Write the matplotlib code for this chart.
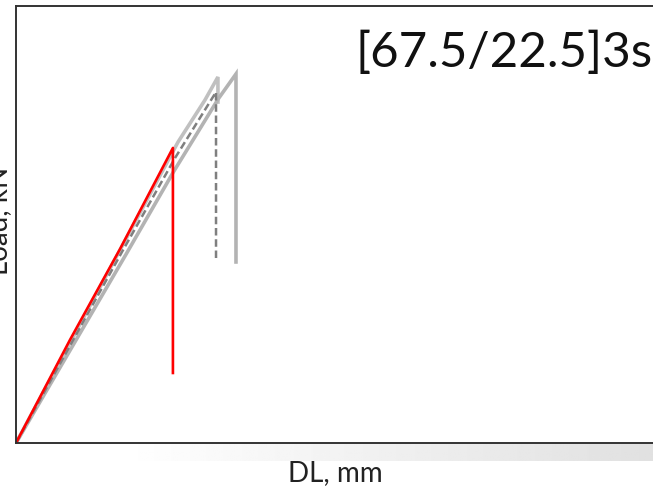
import numpy as np
import matplotlib as mpl
mpl.use('agg')
import matplotlib.pyplot as plt

# load-displacement curves (DL in mm, load in kN)
red_dl = [0.0, 0.254, 0.490, 0.739, 0.739]
red_load = [0.0, 10.61, 19.98, 30.38, 7.21]

upper_dl = [0.0, 0.490, 0.763, 0.890, 0.951, 0.951]
upper_load = [0.0, 19.87, 30.99, 35.32, 37.69, 35.11]

dashed_dl = [0.0, 0.499, 0.749, 0.942, 0.942]
dashed_load = [0.0, 19.67, 29.35, 36.14, 18.84]

lower_dl = [0.0, 0.520, 0.741, 0.953, 1.036, 1.036]
lower_load = [0.0, 19.50, 27.90, 35.45, 38.00, 18.64]

W, H = 653, 494
fig = plt.figure(figsize=(W / 100, H / 100), dpi=100)

# shadow band under the x axis (fades in from the left)
sh = fig.add_axes([120 / W, 1 - 461 / H, (W - 120) / W, 17 / H])
grad = np.linspace(1.0, 0.88, 256).reshape(1, -1)
sh.imshow(grad, aspect='auto', cmap='gray', vmin=0, vmax=1, extent=[0, 1, 0, 1])
sh.axis('off')

ax = fig.add_axes([16 / W, 1 - 443 / H, (W - 16) / W, (443 - 6) / H])
ax.set_xlim(0, 3.0)
ax.set_ylim(0, 45)

ax.plot(upper_dl, upper_load, color='#c0c0c0', lw=2.6, solid_joinstyle='miter')
ax.plot(lower_dl, lower_load, color='#b3b3b3', lw=2.6, solid_joinstyle='miter')
ax.plot(dashed_dl, dashed_load, color='#7f7f7f', lw=1.8, ls=(0, (3, 1.5)))
ax.plot(red_dl, red_load, color='#ff0000', lw=1.9)

for s in ['left', 'bottom', 'top']:
    ax.spines[s].set_color('#333333')
    ax.spines[s].set_linewidth(1.4)
ax.spines['right'].set_visible(False)
ax.set_xticks([])
ax.set_yticks([])

fig.text(355 / W, 1 - 67 / H, '[67.5/22.5]3s', fontsize=35.5, family='Lato',
         ha='left', va='baseline', color='#111111')
fig.text(288 / W, 1 - 481 / H, 'DL, mm', fontsize=20, family='Lato',
         ha='left', va='baseline', color='#222222')
fig.text(7 / W, 1 - 221 / H, 'Load, kN', fontsize=20, family='Lato',
         rotation=90, rotation_mode='anchor', ha='center', va='baseline',
         color='#222222')

fig.savefig('out.png', dpi=100)
